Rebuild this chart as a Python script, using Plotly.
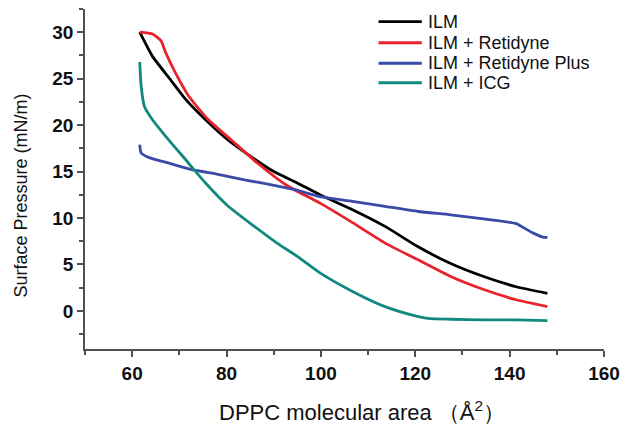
import plotly.graph_objects as go

# ILM
ilm_x = [61.6, 64.3, 67.8, 71.3, 75.5, 80.3, 85.2, 90.0, 94.9, 99.8, 106.7, 113.6, 120.6, 127.5, 134.5, 141.4, 148.0]
ilm_y = [30.0, 27.4, 25.1, 22.8, 20.6, 18.4, 16.6, 15.0, 13.8, 12.5, 10.9, 9.1, 6.9, 5.1, 3.7, 2.6, 1.9]

# ILM + Retidyne
ret_x = [61.6, 64.3, 66.1, 67.1, 69.2, 72.0, 76.1, 81.0, 86.6, 92.8, 99.8, 106.7, 113.6, 120.6, 127.5, 134.5, 141.4, 148.0]
ret_y = [30.0, 29.8, 29.1, 27.8, 25.6, 23.1, 20.6, 18.4, 15.9, 13.5, 11.6, 9.5, 7.3, 5.5, 3.7, 2.3, 1.2, 0.46]

# ILM + Retidyne Plus
plus_x = [61.6, 61.9, 63.6, 67.8, 72.7, 78.2, 83.8, 89.3, 94.9, 99.8, 106.7, 113.6, 120.6, 127.5, 134.5, 141.4, 142.8, 144.9, 147.0, 148.0]
plus_y = [17.9, 17.0, 16.5, 15.9, 15.2, 14.7, 14.1, 13.6, 13.0, 12.3, 11.8, 11.25, 10.7, 10.35, 9.9, 9.4, 9.0, 8.4, 7.95, 7.9]

# ILM + ICG
icg_x = [61.6, 61.9, 62.6, 64.0, 67.1, 71.3, 75.5, 80.3, 85.9, 90.7, 94.9, 99.8, 106.7, 113.6, 119.2, 122.7, 127.5, 134.5, 141.4, 148.0]
icg_y = [26.8, 24.2, 22.0, 20.8, 18.8, 16.3, 13.8, 11.3, 9.1, 7.3, 5.9, 4.1, 2.1, 0.46, -0.43, -0.8, -0.9, -0.97, -0.97, -1.04]

names = ["ILM", "ILM + Retidyne", "ILM + Retidyne Plus", "ILM + ICG"]
colors = ["#000000", "#e8232a", "#3a4aa6", "#12897e"]
xs = [ilm_x, ret_x, plus_x, icg_x]
ys = [ilm_y, ret_y, plus_y, icg_y]

x_ticks = [60, 80, 100, 120, 140, 160]
y_ticks = [0, 5, 10, 15, 20, 25, 30]

W, H = 629, 424
ML, MR, MT, MB = 84.5, 16.7, 9.3, 75
PW, PH = W - ML - MR, H - MT - MB


def px(x):
    return (x - ML) / PW


def py(y):
    return (H - MB - y) / PH


fig = go.Figure()
for n, c, x, y in zip(names, colors, xs, ys):
    fig.add_trace(go.Scatter(x=x, y=y, mode="lines", name=n, showlegend=False,
                             line=dict(color=c, width=2.8, shape="spline", smoothing=0.5)))

axis_common = dict(
    showline=True, linecolor="#505050", linewidth=1.5,
    ticks="outside", ticklen=6, tickwidth=1.5, tickcolor="#505050",
    showgrid=False, zeroline=False,
    tickfont=dict(family="Liberation Sans, Arial", size=19, color="#111111", weight="bold"),
)

# legend drawn as sample lines + labels
rows = [22, 43, 63.5, 83]
shapes = []
annotations = []
for n, c, r in zip(names, colors, rows):
    shapes.append(dict(type="line", xref="paper", yref="paper",
                       x0=px(383), x1=px(427), y0=py(r), y1=py(r),
                       line=dict(color=c, width=2.8)))
    annotations.append(dict(text=n, xref="paper", yref="paper", x=px(431), y=py(r),
                            xanchor="left", yanchor="middle", showarrow=False,
                            font=dict(family="Liberation Sans, Arial", size=18, color="#111111")))

annotations.append(dict(text="DPPC molecular area （Å<sup>2</sup>）", xref="paper", yref="paper",
                        x=px(366), y=py(411), xanchor="center", yanchor="middle", showarrow=False,
                        font=dict(family="Liberation Sans, Arial", size=22, color="#111111")))
annotations.append(dict(text="Surface Pressure (mN/m)", xref="paper", yref="paper",
                        x=px(19), y=py(196), xanchor="center", yanchor="middle", showarrow=False,
                        textangle=-90,
                        font=dict(family="Liberation Sans, Arial", size=18, color="#111111")))

fig.update_layout(
    width=W, height=H,
    margin=dict(l=ML, r=MR, t=MT, b=MB),
    plot_bgcolor="white", paper_bgcolor="white",
    font=dict(family="Liberation Sans, Arial", color="#111111"),
    xaxis=dict(range=[50, 160], tickvals=x_ticks,
               minor=dict(dtick=10, tick0=50, ticklen=4, tickwidth=1.5, tickcolor="#505050", ticks="outside"),
               **axis_common),
    yaxis=dict(range=[-4.1, 32.5], tickvals=y_ticks,
               minor=dict(dtick=2.5, tick0=0, ticklen=4, tickwidth=1.5, tickcolor="#505050", ticks="outside"),
               **axis_common),
    shapes=shapes,
    annotations=annotations,
    showlegend=False,
)

fig.write_html("out.html")
